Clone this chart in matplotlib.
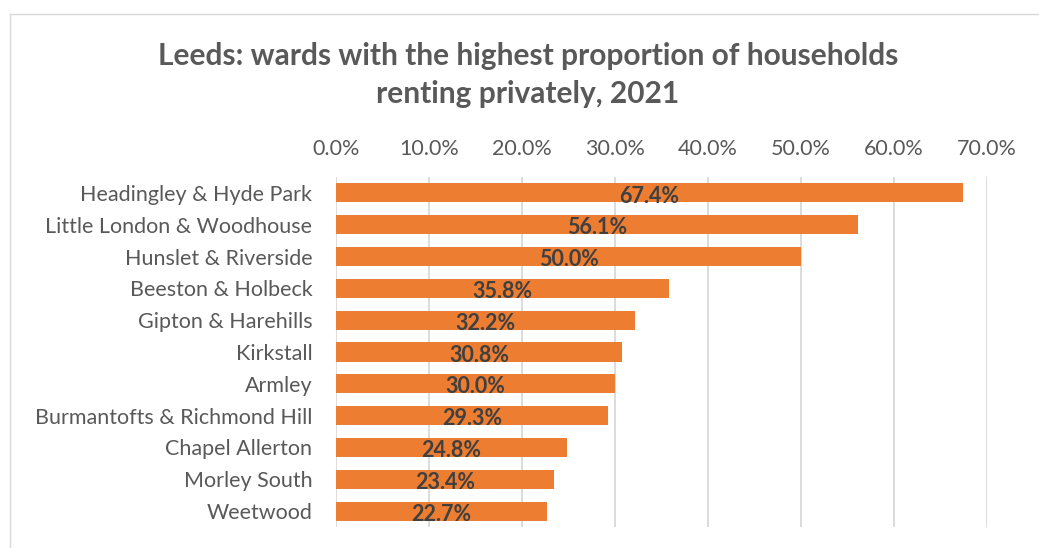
import matplotlib.pyplot as plt
from matplotlib.ticker import PercentFormatter, MultipleLocator

wards = ["Headingley & Hyde Park", "Little London & Woodhouse", "Hunslet & Riverside",
         "Beeston & Holbeck", "Gipton & Harehills", "Kirkstall", "Armley",
         "Burmantofts & Richmond Hill", "Chapel Allerton", "Morley South", "Weetwood"]
renting = [67.4, 56.1, 50.0, 35.8, 32.2, 30.8, 30.0, 29.3, 24.8, 23.4, 22.7]

plt.rcParams['font.family'] = ['Lato', 'DejaVu Sans']

fig = plt.figure(figsize=(10.39, 5.48), dpi=100)
ax = fig.add_axes([336 / 1039, 1 - 527 / 548, 651 / 1039, 350 / 548])

pos = list(range(len(wards)))
ax.barh(pos, renting, height=0.6, color="#ED7D31", zorder=3)
for y, v in zip(pos, renting):
    ax.text(v / 2, y + 0.1, f"{v:.1f}%", ha="center", va="center",
            fontsize=15.5, fontweight="bold", color="#404040", zorder=4)

ax.set_xlim(0, 70)
ax.set_ylim(len(wards) - 0.5, -0.5)
ax.xaxis.set_major_locator(MultipleLocator(10))
ax.xaxis.set_major_formatter(PercentFormatter(decimals=1))
ax.xaxis.tick_top()
ax.set_yticks(pos)
ax.set_yticklabels(wards)
ax.tick_params(axis="both", length=0, labelsize=15.5, colors="#595959")
ax.tick_params(axis="x", pad=13)
ax.tick_params(axis="y", pad=17)
ax.grid(axis="x", color="#D9D9D9", linewidth=1.3, zorder=0)
for s in ax.spines.values():
    s.set_visible(False)

fig.text(0.508, 1 - 75 / 548, "Leeds: wards with the highest proportion of households\nrenting privately, 2021",
         ha="center", va="center", fontsize=21.5, fontweight="bold", color="#595959",
         linespacing=1.45)

# outer chart frame (only top and left edges fall inside the image)
fig.add_artist(plt.Line2D([10 / 1039, 1], [1 - 14 / 548, 1 - 14 / 548], color="#D9D9D9", lw=1))
fig.add_artist(plt.Line2D([10 / 1039, 10 / 1039], [0, 1 - 14 / 548], color="#D9D9D9", lw=1))

fig.savefig("out.png", dpi=100)
